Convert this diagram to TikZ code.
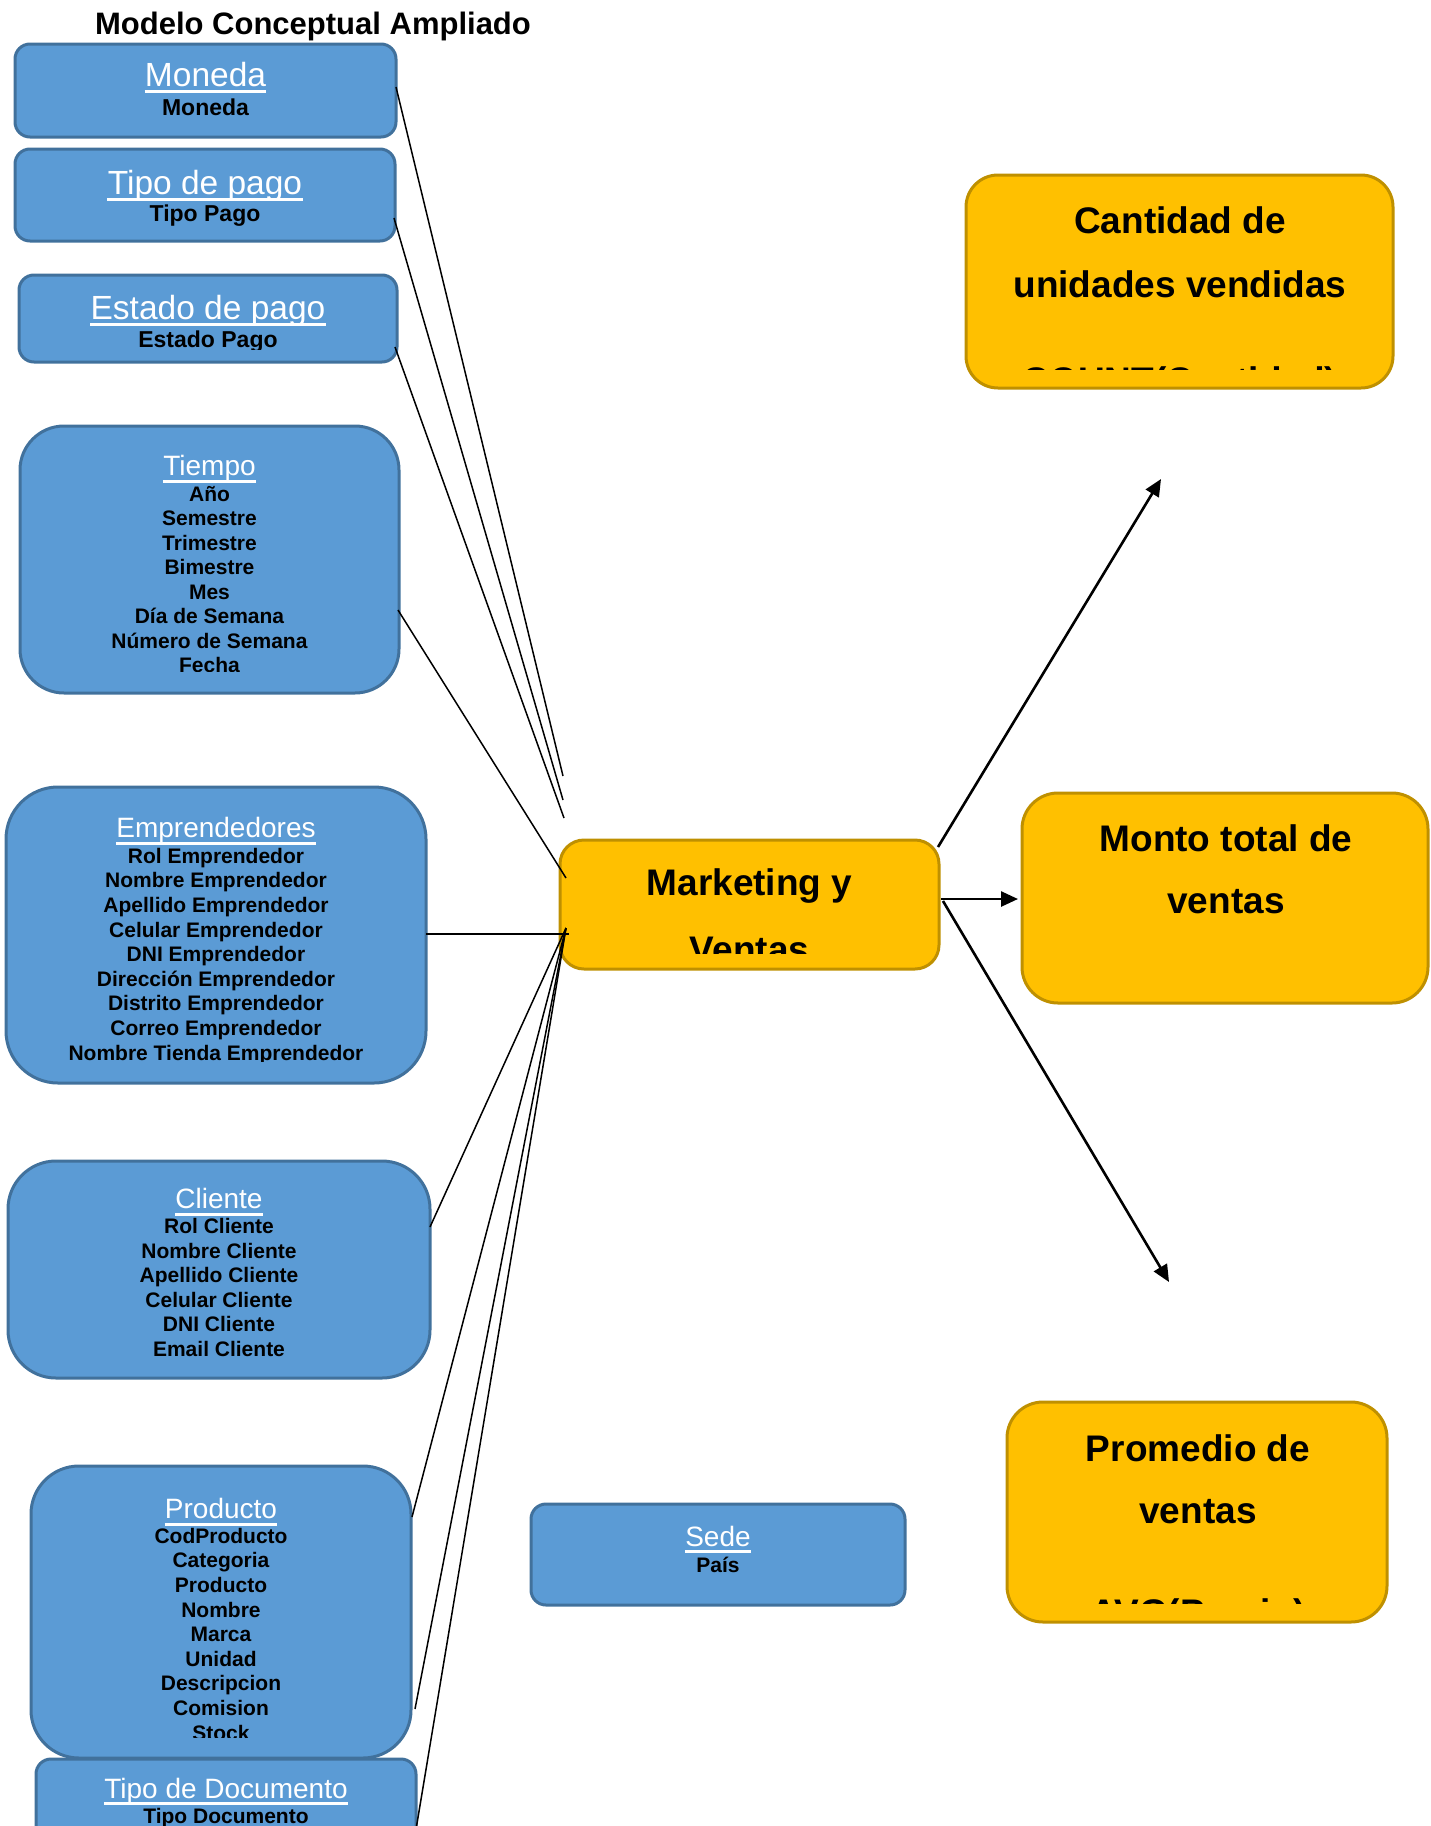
\documentclass[tikz,border=0pt]{standalone}
\usepackage{fontspec}
\setmainfont{Liberation Sans}
\usetikzlibrary{arrows.meta}
\definecolor{bluefill}{HTML}{5B9BD5}
\definecolor{blueedge}{HTML}{41719C}
\definecolor{goldfill}{HTML}{FFC000}
\definecolor{goldedge}{HTML}{BF9000}

% rounded box: style, name, x1, y1, x2, y2, corner radius
\newcommand\rbox[7]{%
  \node[#1, rounded corners=#7, minimum width={(#5-#3)*0.5pt},
        minimum height={(#6-#4)*0.5pt}] (#2) at ({(#3+#5)/2},{(#4+#6)/2}) {};}
% column of attribute lines: style, name prefix, x, first baseline, step, items
\newcommand\attrlines[6]{%
  \foreach \fld [count=\k from 0] in {#6}
    \node[#1] (#2\k) at (#3,{#4+\k*#5}) {\fld};}
% white underline below a title node
\newcommand\ttlrule[2]{%
  \draw[uline] ([shift={(0,#2)}]#1.base west) -- ([shift={(0,#2)}]#1.base east);}

\begin{document}
\begin{tikzpicture}[x=0.5pt,y=-0.5pt,
  entity/.style={draw=blueedge, fill=bluefill, line width=1.5pt, inner sep=0pt, outer sep=0pt},
  measure/.style={draw=goldedge, fill=goldfill, line width=1.5pt, inner sep=0pt, outer sep=0pt},
  pagettl/.style={inner sep=0pt, anchor=base, font=\bfseries\fontsize{15.5}{18}\selectfont},
  ttl/.style={text=white, inner sep=0pt, anchor=base},
  bigttl/.style={ttl, font=\fontsize{16.75}{20}\selectfont},
  smallttl/.style={ttl, font=\fontsize{14}{17}\selectfont},
  attr/.style={inner sep=0pt, anchor=base, font=\bfseries\fontsize{10.5}{12}\selectfont},
  bigattr/.style={attr, font=\bfseries\fontsize{11.5}{14}\selectfont},
  mtxt/.style={inner sep=0pt, anchor=base, font=\bfseries\fontsize{18.5}{22}\selectfont},
  uline/.style={white, line width=1.5pt},
  link/.style={line width=0.75pt},
  flow/.style={line width=1.3pt, -{Triangle[length=8.5pt,width=7.5pt]}}
]
\useasboundingbox (0,0) rectangle (1430,1826);
\clip (0,0) rectangle (1430,1826);

\node[pagettl] (title) at (313,34) {Modelo Conceptual Ampliado};

% dimension boxes
\rbox{entity}{moneda}{15}{44}{396}{137}{7.5pt}
\rbox{entity}{tipopago}{15}{149}{395}{241}{7.5pt}
\rbox{entity}{estado}{19}{275}{397}{362}{7.5pt}
\rbox{entity}{tiempo}{20}{426}{399}{693}{22pt}
\rbox{entity}{emprend}{6}{787}{426}{1083}{26pt}
\rbox{entity}{cliente}{8}{1161}{430}{1378}{24pt}
\rbox{entity}{producto}{31}{1466}{411}{1758}{24pt}
\rbox{entity}{tipodoc}{36}{1759}{416}{1900}{7.5pt}
\rbox{entity}{sede}{531}{1504}{905}{1605}{7.5pt}

% fact and measure boxes
\rbox{measure}{mkt}{560}{840}{939}{969}{12pt}
\rbox{measure}{cantidad}{966}{175}{1393}{388}{16pt}
\rbox{measure}{monto}{1022}{793}{1428}{1003}{18pt}
\rbox{measure}{promedio}{1007}{1402}{1387}{1622}{18pt}

% Moneda
\node[bigttl] (moneda-t) at (205.5,86) {Moneda};
\ttlrule{moneda-t}{5}
\node[bigattr] (moneda-a) at (205.5,115) {Moneda};

% Tipo de pago
\node[bigttl] (tipopago-t) at (205,194.5) {Tipo de pago};
\ttlrule{tipopago-t}{5}
\node[bigattr] (tipopago-a) at (205,221) {Tipo Pago};

% Estado de pago
\node[bigttl] (estado-t) at (208,319) {Estado de pago};
\ttlrule{estado-t}{5}
\begin{scope}
  \clip (19,275) rectangle (397,349);
  \node[bigattr] (estado-a) at (208,347) {Estado Pago};
\end{scope}

% Tiempo
\node[smallttl] (tiempo-t) at (209.5,475) {Tiempo};
\ttlrule{tiempo-t}{6}
\begin{scope}
  \clip (20,426) rectangle (399,671);
  \attrlines{attr}{tiempo-a}{209.5}{501}{24.5}{Año, Semestre, Trimestre, Bimestre, Mes, Día de Semana, Número de Semana, Fecha}
\end{scope}

% Emprendedores
\node[smallttl] (emprend-t) at (216,837) {Emprendedores};
\ttlrule{emprend-t}{6}
\begin{scope}
  \clip (6,787) rectangle (426,1061);
  \attrlines{attr}{emprend-a}{216}{863.2}{24.6}{Rol Emprendedor, Nombre Emprendedor, Apellido Emprendedor, Celular Emprendedor, DNI Emprendedor, Dirección Emprendedor, Distrito Emprendedor, Correo Emprendedor, Nombre Tienda Emprendedor}
\end{scope}

% Cliente
\node[smallttl] (cliente-t) at (219,1208.4) {Cliente};
\ttlrule{cliente-t}{6}
\attrlines{attr}{cliente-a}{219}{1233.5}{24.6}{Rol Cliente, Nombre Cliente, Apellido Cliente, Celular Cliente, DNI Cliente, Email Cliente}

% Producto
\node[smallttl] (producto-t) at (221,1518) {Producto};
\ttlrule{producto-t}{6}
\begin{scope}
  \clip (31,1466) rectangle (411,1737);
  \attrlines{attr}{producto-a}{221}{1543.3}{24.6}{CodProducto, Categoria, Producto, Nombre, Marca, Unidad, Descripcion, Comision, Stock}
\end{scope}

% Tipo de Documento
\node[smallttl] (tipodoc-t) at (226,1798) {Tipo de Documento};
\ttlrule{tipodoc-t}{5}
\node[attr] (tipodoc-a) at (226,1823) {Tipo Documento};

% Sede
\node[smallttl] (sede-t) at (718,1546) {Sede};
\ttlrule{sede-t}{5}
\node[attr] (sede-a) at (718,1572.5) {País};

% Marketing y Ventas
\begin{scope}
  \clip (560,840) rectangle (939,953);
  \node[mtxt] (mkt-l1) at (749.5,895) {Marketing y};
  \node[mtxt] (mkt-l2) at (749.5,962) {Ventas};
\end{scope}

% Cantidad de unidades vendidas
\begin{scope}
  \clip (966,175) rectangle (1393,369);
  \node[mtxt] (cantidad-l1) at (1180,233) {Cantidad de};
  \node[mtxt] (cantidad-l2) at (1180,297) {unidades vendidas};
  \node[mtxt] (cantidad-l3) at (1180,393.5) {COUNT(Cantidad)};
\end{scope}

% Monto total de ventas
\node[mtxt] (monto-l1) at (1226,851) {Monto total de};
\node[mtxt] (monto-l2) at (1226,913) {ventas};

% Promedio de ventas
\begin{scope}
  \clip (1007,1402) rectangle (1387,1603);
  \node[mtxt] (promedio-l1) at (1198,1461) {Promedio de};
  \node[mtxt] (promedio-l2) at (1198,1523) {ventas};
  \node[mtxt] (promedio-l3) at (1198,1625) {AVG(Precio)};
\end{scope}

% dimension links into the fact box
\draw[link] ([shift={(0,-3.5)}]moneda.east)  -- ([shift={(3,-64)}]mkt.north west);
\draw[link] ([shift={(-1,23)}]tipopago.east) -- ([shift={(3,-40)}]mkt.north west);
\draw[link] ([shift={(-2,28.5)}]estado.east) -- ([shift={(4,-22)}]mkt.north west);
\draw[link] ([shift={(-1,50.5)}]tiempo.east) -- ([shift={(6,38)}]mkt.north west);
\draw[link] ([shift={(0,-1)}]emprend.east)   -- ([shift={(9,94)}]mkt.north west);
\draw[link] ([shift={(0,-42.5)}]cliente.east) -- ([shift={(6,88)}]mkt.north west);
\draw[link] ([shift={(1,-95)}]producto.east) -- ([shift={(6,88)}]mkt.north west);
\draw[link] ([shift={(4,97)}]producto.east)  -- ([shift={(6,88)}]mkt.north west);
\draw[link] (tipodoc.east) -- ([shift={(6,88)}]mkt.north west);

% measure arrows
\coordinate (up-tip) at (1161,479);
\coordinate (down-tip) at (1169,1282);
\draw[flow] ([shift={(-1,7)}]mkt.north east) -- (up-tip);
\draw[flow] ([shift={(2,-5.5)}]mkt.east) -- ([shift={(-4,1)}]monto.west);
\draw[flow] ([shift={(4,-3.5)}]mkt.east) -- (down-tip);
\end{tikzpicture}
\end{document}
